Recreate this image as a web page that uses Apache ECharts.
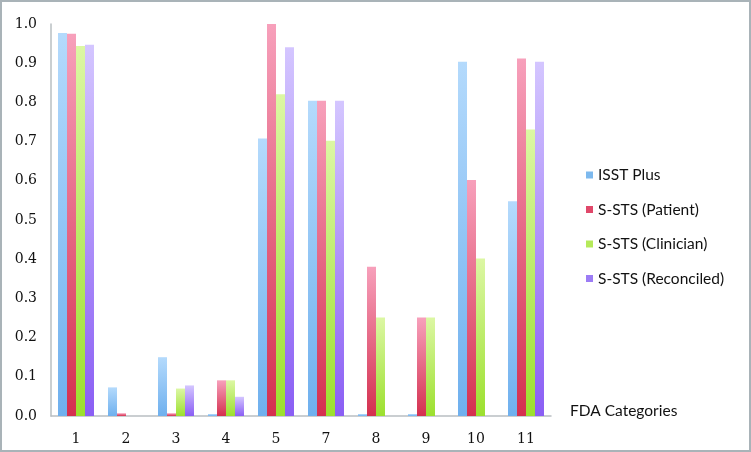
<!DOCTYPE html>
<html>
<head>
<meta charset="utf-8">
<script src="https://cdn.jsdelivr.net/npm/echarts@6/dist/echarts.min.js"></script>
<style>
  html, body { margin: 0; padding: 0; background: #fff; }
  #chart { width: 747px; height: 448px; border: 2px solid #a9b3b8; }
</style>
</head>
<body>
<div id="chart"></div>
<script>
// FDA categories on the x axis
const categories = ['1', '2', '3', '4', '5', '7', '8', '9', '10', '11']

// values
const isstPlus   = [0.977, 0.073, 0.150, 0.005, 0.708, 0.804, 0.005, 0.005, 0.904, 0.548]
const stsPatient = [0.975, 0.007, 0.007, 0.091, 1.003, 0.804, 0.381, 0.251, 0.602, 0.912]
const stsClin    = [0.944, 0, 0.070, 0.091, 0.821, 0.702, 0.251, 0.251, 0.402, 0.731]
const stsRecon   = [0.947, 0, 0.078, 0.049, 0.941, 0.804, 0, 0, 0, 0.904]

const chart = echarts.init(document.getElementById('chart'))

function grad(top, bottom) {
  return new echarts.graphic.LinearGradient(0, 0, 0, 1, [
    { offset: 0, color: top },
    { offset: 1, color: bottom }
  ])
}

function bar(name, data, top, bottom) {
  return {
    name: name,
    type: 'bar',
    data: data,
    barWidth: 9,
    barGap: '0%',
    itemStyle: { color: grad(top, bottom) }
  }
}

chart.setOption({
  animation: false,
  textStyle: { fontFamily: 'Lato' },
  title: {
    text: 'FDA Categories',
    left: 563,
    top: 396,
    textStyle: { fontFamily: 'Lato', fontSize: 15.5, fontWeight: 'normal', color: '#111' }
  },
  legend: {
    orient: 'vertical',
    left: 579,
    top: 160,
    icon: 'rect',
    itemWidth: 7,
    itemHeight: 7,
    itemGap: 18.5,
    textStyle: { fontFamily: 'Lato', fontSize: 15.5, color: '#111' },
    data: [
      { name: 'ISST Plus', itemStyle: { color: '#7db9ee' } },
      { name: 'S-STS (Patient)', itemStyle: { color: '#e0486a' } },
      { name: 'S-STS (Clinician)', itemStyle: { color: '#b5ea5a' } },
      { name: 'S-STS (Reconciled)', itemStyle: { color: '#9c7cf5' } }
    ]
  },
  grid: {
    left: 49,
    right: 198,
    top: 22,
    bottom: 34
  },
  xAxis: {
    type: 'category',
    data: categories,
    axisLine: { lineStyle: { color: '#b9bfc2', width: 1.5 } },
    axisTick: { show: false },
    axisLabel: {
      margin: 16,
      fontFamily: 'DejaVu Serif',
      fontSize: 14,
      color: '#111'
    }
  },
  yAxis: {
    type: 'value',
    min: 0,
    max: 1,
    interval: 0.1,
    axisLine: { show: true, lineStyle: { color: '#b9bfc2', width: 1.5 } },
    axisTick: { show: false },
    splitLine: { show: false },
    axisLabel: {
      margin: 14,
      fontFamily: 'DejaVu Serif',
      fontSize: 14,
      color: '#111',
      formatter: v => v.toFixed(1)
    }
  },
  series: [
    bar('ISST Plus', isstPlus, '#b4dafc', '#6fb0ee'),
    bar('S-STS (Patient)', stsPatient, '#f7a0bb', '#d4304f'),
    bar('S-STS (Clinician)', stsClin, '#dcf7a4', '#9ce02e'),
    bar('S-STS (Reconciled)', stsRecon, '#d4c6ff', '#8a5ef4')
  ]
})
</script>
</body>
</html>
